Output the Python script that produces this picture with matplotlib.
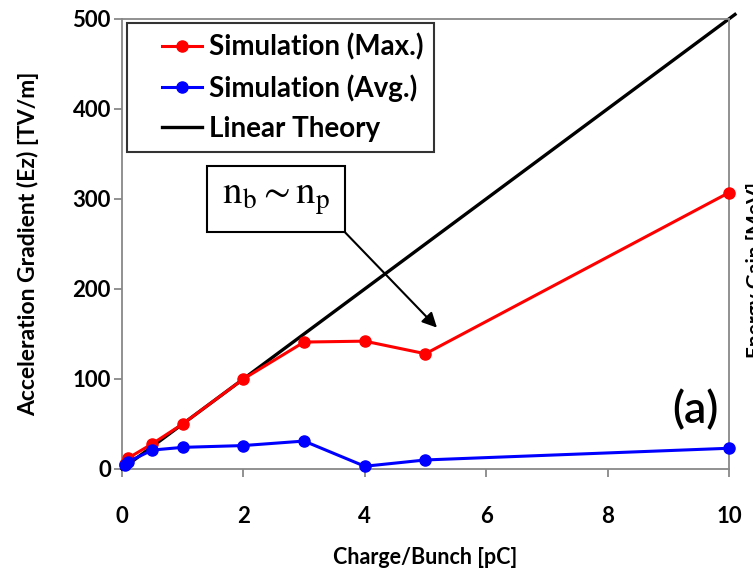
import matplotlib
matplotlib.use("Agg")
import matplotlib.pyplot as plt
from matplotlib.legend_handler import HandlerLine2D

plt.rcParams['font.family'] = ['Lato', 'DejaVu Sans']
plt.rcParams['mathtext.fontset'] = 'stix'

# Charge per bunch [pC]
charge = [0.05, 0.1, 0.5, 1, 2, 3, 4, 5, 10]
# Peak and average accelerating gradient [TV/m]
ez_max = [5, 12, 28, 50, 100, 141, 142, 128, 307]
ez_avg = [4, 8, 21, 24, 26, 31, 3, 10, 23]
# Linear theory estimate
theory_charge = [0, 10.1]
theory_ez = [0, 505]

xticks = [0, 2, 4, 6, 8, 10]
yticks = [0, 100, 200, 300, 400, 500]

fig = plt.figure(figsize=(7.53, 5.74), dpi=100)
ax = fig.add_axes([0.162, 0.183, 0.806, 0.784])

ax.plot(theory_charge, theory_ez, color='black', lw=2.4, label='Linear Theory',
        clip_on=False, zorder=2)
ax.plot(charge, ez_max, color='#ff0000', lw=2.2, marker='o', ms=8,
        label='Simulation (Max.)', clip_on=False, zorder=3)
ax.plot(charge, ez_avg, color='#0000ff', lw=2.2, marker='o', ms=8,
        label='Simulation (Avg.)', clip_on=False, zorder=4)

ax.set_xlim(0, 10)
ax.set_ylim(0, 500)
ax.set_xticks(xticks)
ax.set_yticks(yticks)

for s in ax.spines.values():
    s.set_color('#888888')
    s.set_linewidth(1.3)
ax.tick_params(direction='out', length=6, width=1.3, color='#888888',
               labelsize=16)
ax.tick_params(axis='x', pad=21)
ax.tick_params(axis='y', pad=2)
for lbl in ax.get_xticklabels() + ax.get_yticklabels():
    lbl.set_fontweight('bold')

ax.set_xlabel('Charge/Bunch [pC]', fontsize=15.5, fontweight='bold', labelpad=14)
ax.set_ylabel('Acceleration Gradient (Ez) [TV/m]', fontsize=16.5,
              fontweight='bold', labelpad=24)

handles, labels = ax.get_legend_handles_labels()
order = [1, 2, 0]
leg = ax.legend([handles[i] for i in order], [labels[i] for i in order],
                loc='upper left', bbox_to_anchor=(0.008, 0.99),
                frameon=True, fancybox=False, prop={'size': 20, 'weight': 'bold'},
                handlelength=2.35, handletextpad=0.25, labelspacing=0.5,
                borderpad=0.36, borderaxespad=0,
                handler_map={h: HandlerLine2D(xpad=0.92) for h in handles})
leg.get_frame().set_edgecolor('black')
leg.get_frame().set_linewidth(1.5)

ax.annotate(r'$\mathrm{n_b \sim n_p}$', xy=(5.19, 157), xytext=(2.54, 300),
            fontsize=28, ha='center', va='center',
            bbox=dict(boxstyle='square,pad=0.38', fc='white', ec='black', lw=1.5),
            arrowprops=dict(arrowstyle='-|>', color='black', lw=1.5,
                            mutation_scale=22, relpos=(1, 0), shrinkA=0, shrinkB=0),
            zorder=5)

ax.text(0.9835, 0.131, '(a)', transform=ax.transAxes, fontsize=32,
        fontweight='semibold', ha='right', va='center')

fig.text(746 / 753, 1 - 270 / 574, 'Energy Gain [MeV]', rotation=90,
         fontsize=15, fontweight='bold', ha='left', va='center')

fig.savefig('out.png', dpi=100)
